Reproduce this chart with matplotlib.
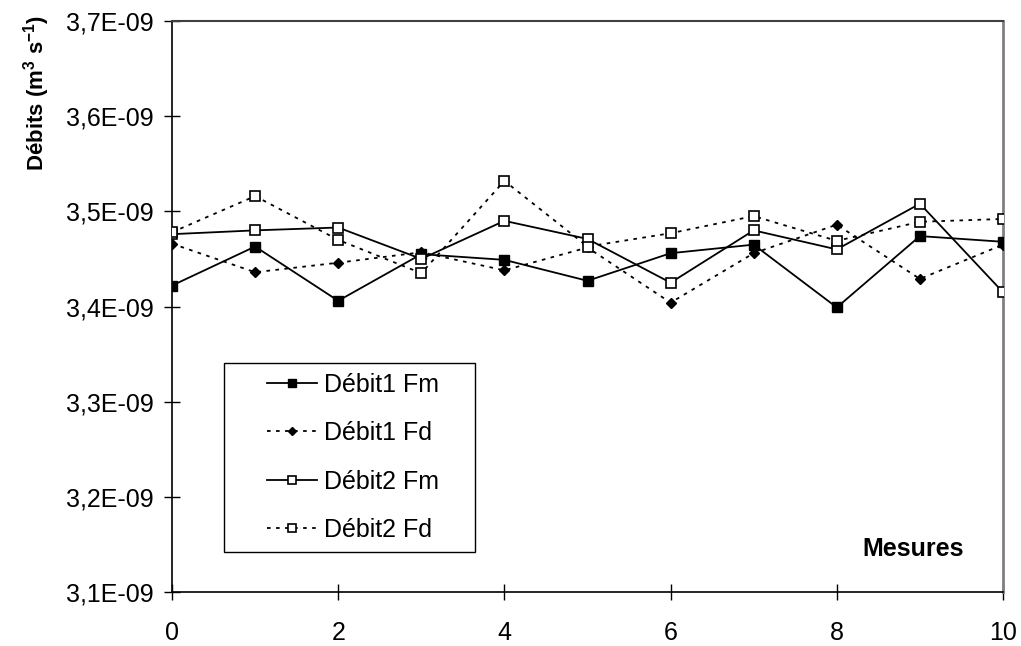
import numpy as np
import matplotlib.pyplot as plt
from matplotlib.patches import Rectangle
from matplotlib.ticker import FuncFormatter

plt.rcParams['font.family'] = ['Liberation Sans', 'DejaVu Sans']
plt.rcParams['mathtext.fontset'] = 'custom'
plt.rcParams['mathtext.rm'] = 'Liberation Sans'
plt.rcParams['mathtext.bf'] = 'Liberation Sans:bold'

mesures = np.arange(0, 11)
# debits in m3/s (units of 1e-9)
debit1_fm = np.array([3.422, 3.463, 3.406, 3.455, 3.449, 3.427, 3.456, 3.465, 3.399, 3.474, 3.468]) * 1e-9
debit1_fd = np.array([3.466, 3.436, 3.446, 3.457, 3.438, 3.462, 3.404, 3.456, 3.486, 3.429, 3.465]) * 1e-9
debit2_fm = np.array([3.476, 3.480, 3.483, 3.450, 3.490, 3.471, 3.425, 3.480, 3.460, 3.508, 3.415]) * 1e-9
debit2_fd = np.array([3.478, 3.516, 3.470, 3.435, 3.532, 3.463, 3.477, 3.495, 3.469, 3.489, 3.492]) * 1e-9
labels = ["Débit1 Fm", "Débit1 Fd", "Débit2 Fm", "Débit2 Fd"]

fig = plt.figure(figsize=(10.21, 6.46), dpi=100)
ax = fig.add_axes([172/1021, 1-592/646, 831/1021, 571/646])

dot = (0, (2, 3))
lw = 1.3
ax.plot(mesures, debit1_fm, color="black", lw=lw, ls="-", marker="s", ms=7,
        mfc="black", mec="black", label=labels[0], zorder=3)
ax.plot(mesures, debit1_fd, color="black", lw=lw, ls=dot, marker="D", ms=5.5,
        mfc="black", mec="black", label=labels[1], zorder=3)
ax.plot(mesures, debit2_fm, color="black", lw=lw, ls="-", marker="s", ms=7,
        mfc="white", mec="black", mew=1.2, label=labels[2], zorder=4)
ax.plot(mesures, debit2_fd, color="black", lw=lw, ls=dot, marker="s", ms=7,
        mfc="white", mec="black", mew=1.2, label=labels[3], zorder=4)

ax.set_xlim(0, 10)
ax.set_ylim(3.1e-9, 3.7e-9)
ax.set_xticks(np.arange(0, 11, 2))
ax.set_yticks(np.arange(3.1, 3.71, 0.1) * 1e-9)
ax.yaxis.set_major_formatter(FuncFormatter(lambda v, p: ("%.1fE-09" % (v * 1e9)).replace(".", ",")))
ax.tick_params(axis="both", direction="inout", length=12, width=1, labelsize=18, color="black")
ax.tick_params(axis="y", pad=7)
ax.tick_params(axis="x", pad=15)

for s in ["left", "bottom"]:
    ax.spines[s].set_color("black")
    ax.spines[s].set_linewidth(1.2)
ax.spines["top"].set_color("#404040")
ax.spines["top"].set_linewidth(1.5)
ax.spines["right"].set_color("#808080")
ax.spines["right"].set_linewidth(2)

ax.set_ylabel("Débits (m$^{\\mathregular{3}}$ s$^{\\mathregular{-1}}$)", fontsize=16, fontweight="bold")
ax.yaxis.set_label_coords(-0.145, 0.874)
ax.text(0.892, 0.076, "Mesures", transform=ax.transAxes, fontsize=18,
        fontweight="bold", ha="center", va="center")

# legend box drawn separately so the padding can match
ax.add_patch(Rectangle((0.0626, 0.0701), 0.302, 0.331, transform=ax.transAxes,
                       facecolor="white", edgecolor="black", lw=1.0, zorder=5))
leg = ax.legend(loc="upper left", bbox_to_anchor=(0.1143, 0.384), borderaxespad=0,
                fontsize=18, frameon=False, markerscale=0.75, handlelength=2.0,
                handletextpad=0.3, labelspacing=0.98, borderpad=0)
leg.set_zorder(6)

fig.savefig("out.png", dpi=100)
